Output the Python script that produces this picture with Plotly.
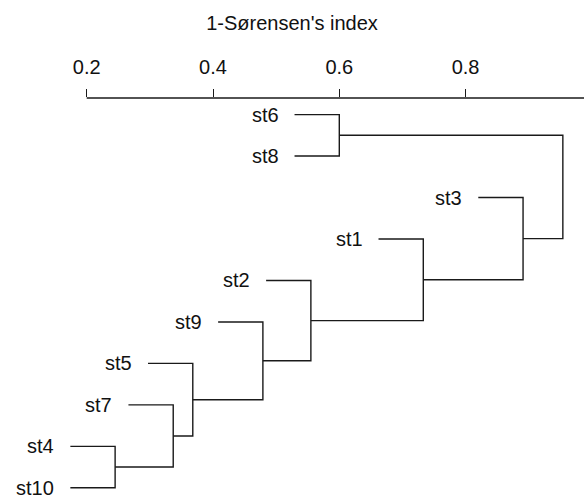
import plotly.graph_objects as go

# ---- data ----
leaf_labels = ["st6", "st8", "st3", "st1", "st2", "st9", "st5", "st7", "st4", "st10"]
# merges: (child_a, child_b); leaves by name, clusters as "c<k>" (1-based merge index)
merge_a = ["st4", "st7", "st5", "st9", "st2", "st1", "st3", "st6", "c8"]
merge_b = ["st10", "c1", "c2", "c3", "c4", "c5", "c6", "st8", "c7"]
merge_height = [0.245, 0.337, 0.368, 0.479, 0.555, 0.733, 0.891, 0.600, 0.954]
tick_values = [0.2, 0.4, 0.6, 0.8]
axis_title = "1-Sørensen's index"

# ---- style ----
FONT = "Liberation Sans, Arial, sans-serif"
LINE_COLOR = "#1a1a1a"
HANG = 0.1 * (max(merge_height) - min(merge_height))  # R-style hanging leaves
X_RANGE = [0.0627, 0.9875]
Y_RANGE = [10.27, 0.6]

# ---- build dendrogram geometry ----
leaf_y = {name: i + 1 for i, name in enumerate(leaf_labels)}
leaf_parent_h = {}
for a, b, h in zip(merge_a, merge_b, merge_height):
    for c in (a, b):
        if c in leaf_y:
            leaf_parent_h[c] = h

node_pos = {}  # name -> (x, y)
for name in leaf_labels:
    node_pos[name] = (leaf_parent_h[name] - HANG, leaf_y[name])

xs, ys = [], []
for k, (a, b, h) in enumerate(zip(merge_a, merge_b, merge_height), start=1):
    xa, ya = node_pos[a]
    xb, yb = node_pos[b]
    xs += [xa, h, h, xb, None]
    ys += [ya, ya, yb, yb, None]
    node_pos[f"c{k}"] = (h, (ya + yb) / 2)

fig = go.Figure()
fig.add_trace(go.Scatter(
    x=xs, y=ys, mode="lines",
    line=dict(color=LINE_COLOR, width=1.4),
    hoverinfo="skip", showlegend=False,
))

for name in leaf_labels:
    x0, y0 = node_pos[name]
    fig.add_annotation(
        x=x0, y=y0, text=name, showarrow=False,
        xanchor="right", yanchor="middle", xshift=-14,
        font=dict(family=FONT, size=20, color="#111"),
    )

# axis line spanning from first tick to right edge (R style)
fig.add_shape(
    type="line", xref="x", yref="paper",
    x0=min(tick_values), x1=X_RANGE[1], y0=1, y1=1,
    line=dict(color=LINE_COLOR, width=1.4),
)

fig.update_layout(
    width=584, height=499, autosize=False,
    margin=dict(l=0, r=0, t=98, b=0, pad=0),
    paper_bgcolor="white", plot_bgcolor="white",
    font=dict(family=FONT, size=20, color="#111"),
    xaxis=dict(
        side="top", range=X_RANGE, tickvals=tick_values,
        ticktext=[f"{v:.1f}" for v in tick_values],
        ticks="outside", ticklen=8, tickwidth=1.4, tickcolor=LINE_COLOR,
        showline=False, showgrid=False, zeroline=False,
        ticklabelstandoff=7,
        tickfont=dict(family=FONT, size=20, color="#111"),
        title=dict(text=axis_title, standoff=20,
                   font=dict(family=FONT, size=20, color="#111")),
        automargin=False, fixedrange=True,
    ),
    yaxis=dict(
        range=Y_RANGE, visible=False, showgrid=False, zeroline=False,
        fixedrange=True,
    ),
)

fig.write_html("out.html")
